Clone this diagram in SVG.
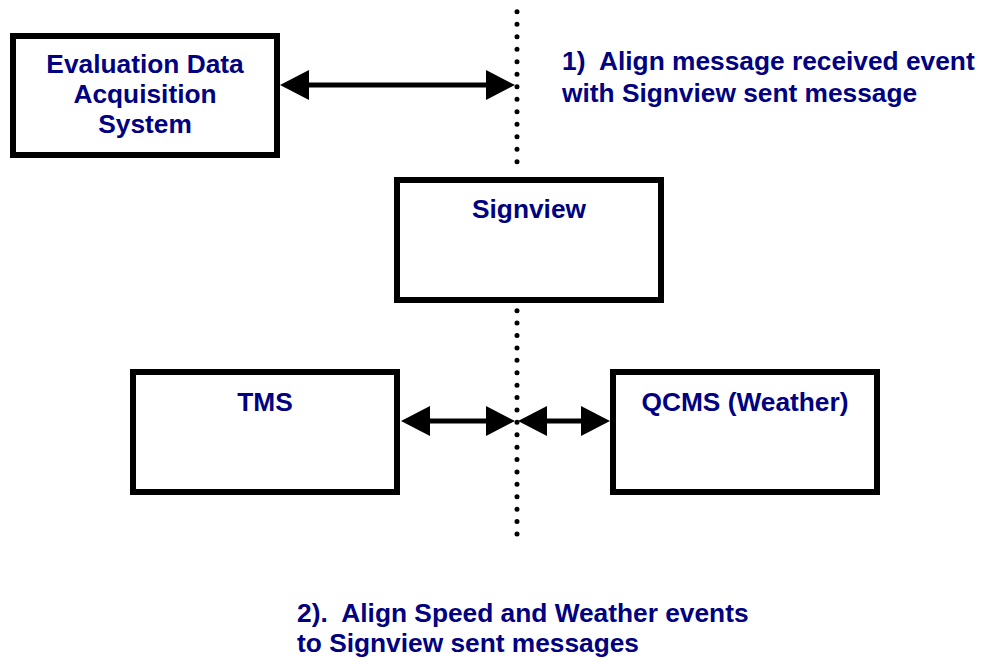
<svg xmlns="http://www.w3.org/2000/svg" width="984" height="659" viewBox="0 0 984 659" xml:space="preserve">
  <style>
    .box { fill: #ffffff; stroke: #000000; stroke-width: 6; }
    .lbl { font-family: "Liberation Sans", Arial, sans-serif; font-weight: bold; font-size: 26.3px; fill: #000080; white-space: pre; }
    .mid { text-anchor: middle; }
    .dots { fill: none; stroke: #000000; stroke-width: 5; stroke-linecap: round; }
    .conn { fill: none; stroke: #000000; stroke-width: 5; }
  </style>
  <defs>
    <marker id="ah" viewBox="0 0 29 30" refX="1" refY="15" markerWidth="29" markerHeight="30" markerUnits="userSpaceOnUse" orient="auto-start-reverse">
      <path d="M0,0 L29,15 L0,30 Z" fill="#000000"/>
    </marker>
  </defs>
  <rect width="984" height="659" fill="#ffffff"/>

  <g id="edas">
    <rect class="box" x="13" y="36" width="264" height="119"/>
    <text class="lbl mid" x="145" y="73">Evaluation Data</text>
    <text class="lbl mid" x="145" y="103">Acquisition</text>
    <text class="lbl mid" x="145" y="133">System</text>
  </g>

  <g id="signview">
    <rect class="box" x="397" y="180" width="264" height="120"/>
    <text class="lbl mid" x="529" y="218">Signview</text>
  </g>

  <g id="tms">
    <rect class="box" x="133" y="372" width="264" height="120"/>
    <text class="lbl mid" x="265" y="411">TMS</text>
  </g>

  <g id="qcms">
    <rect class="box" x="613" y="372" width="264" height="120"/>
    <text class="lbl mid" x="745" y="411">QCMS (Weather)</text>
  </g>

  <g id="timeline">
    <line class="dots" x1="517" y1="11.7" x2="517" y2="174.2" stroke-dasharray="0 12.5"/>
    <line class="dots" x1="517" y1="310.7" x2="517" y2="534" stroke-dasharray="0 12.405"/>
  </g>

  <g id="connectors">
    <line class="conn" x1="308" y1="85" x2="487" y2="85" marker-start="url(#ah)" marker-end="url(#ah)"/>
    <line class="conn" x1="429" y1="421" x2="487" y2="421" marker-start="url(#ah)" marker-end="url(#ah)"/>
    <line class="conn" x1="546" y1="421" x2="582" y2="421" marker-start="url(#ah)" marker-end="url(#ah)"/>
  </g>

  <g id="note1">
    <text class="lbl" x="562" y="70">1)  Align message received event</text>
    <text class="lbl" x="562" y="102">with Signview sent message</text>
  </g>

  <g id="note2">
    <text class="lbl" x="297" y="622">2).  Align Speed and Weather events</text>
    <text class="lbl" x="297" y="652">to Signview sent messages</text>
  </g>
</svg>
